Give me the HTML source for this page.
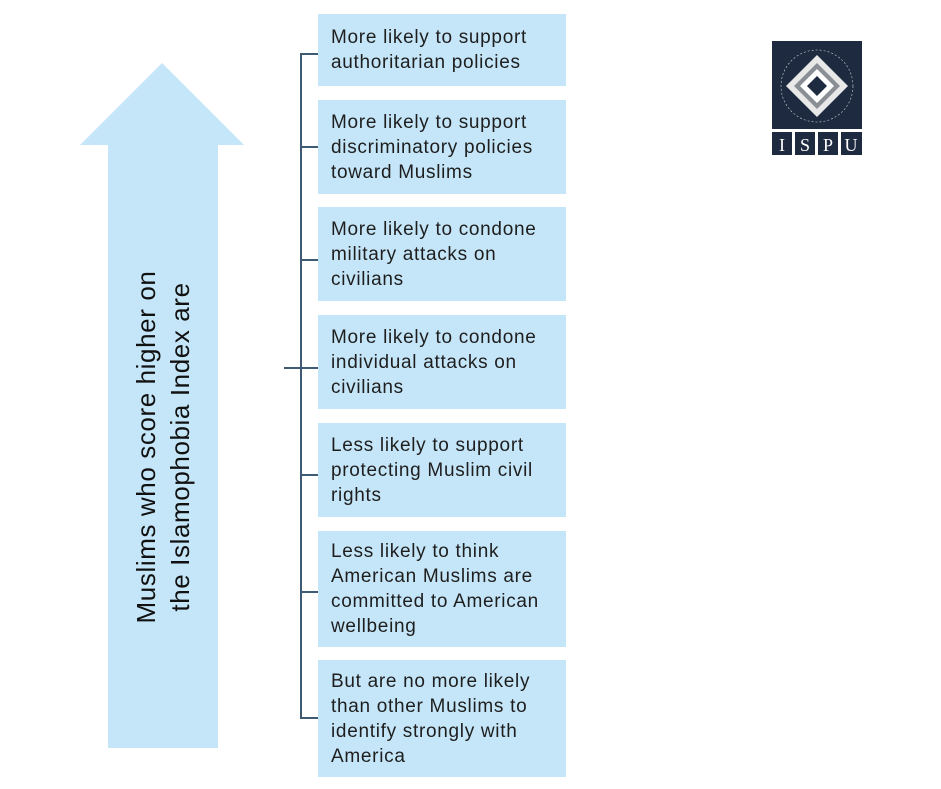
<!DOCTYPE html>
<html><head><style>
body{margin:0;width:941px;height:789px;background:#fff;position:relative;overflow:hidden;font-family:"Liberation Sans",sans-serif;}
.b{position:absolute;left:318px;width:248px;background:#c5e6f8;color:#1e1e1e;font-size:19px;line-height:25px;box-sizing:border-box;padding-left:13px;display:flex;align-items:center;letter-spacing:0.7px;white-space:nowrap}
.l{position:absolute;background:#3f5b73}
</style></head><body>
<svg style="position:absolute;left:0;top:0" width="941" height="789">
<polygon points="162,63 244,145 218,145 218,748 108,748 108,145 80,145" fill="#c5e6f8"/>
<text transform="translate(155,447) rotate(-90)" text-anchor="middle" font-family="Liberation Sans" font-size="26" letter-spacing="0.6" fill="#111">Muslims who score higher on</text>
<text transform="translate(189,447) rotate(-90)" text-anchor="middle" font-family="Liberation Sans" font-size="26" letter-spacing="0.6" fill="#111">the Islamophobia Index are</text>
<g>
<rect x="771" y="41" width="92" height="114" fill="#fff"/>
<rect x="772" y="41" width="90" height="88" fill="#1e2a3f"/>
<circle cx="817" cy="86" r="36" fill="none" stroke="#cfd3d8" stroke-width="0.6" stroke-dasharray="2 2"/>
<polygon points="817,55 848,86 817,117 786,86" fill="#e8e8e8"/>
<polygon points="817,63 840,86 817,109 794,86" fill="#8a8f96"/>
<polygon points="817,69 834,86 817,103 800,86" fill="#fff"/>
<polygon points="817,76 827,86 817,96 807,86" fill="#1e2a3f"/>
<rect x="772" y="132" width="20" height="23" fill="#1e2a3f"/>
<rect x="795" y="132" width="20" height="23" fill="#1e2a3f"/>
<rect x="818" y="132" width="20" height="23" fill="#1e2a3f"/>
<rect x="841" y="132" width="21" height="23" fill="#1e2a3f"/>
<g font-family="Liberation Serif" font-size="18" fill="#fff" text-anchor="middle">
<text x="782" y="151">I</text><text x="805" y="151">S</text><text x="828" y="151">P</text><text x="851" y="151">U</text></g>
</g>
</svg>
<div class="l" style="left:300px;top:54px;width:2px;height:665px"></div>
<div class="l" style="left:284px;top:367px;width:17px;height:2px"></div>
<div class="l" style="left:300px;top:53px;width:18px;height:2px"></div>
<div class="l" style="left:300px;top:146px;width:18px;height:2px"></div>
<div class="l" style="left:300px;top:259px;width:18px;height:2px"></div>
<div class="l" style="left:300px;top:367px;width:18px;height:2px"></div>
<div class="l" style="left:300px;top:474px;width:18px;height:2px"></div>
<div class="l" style="left:300px;top:591px;width:18px;height:2px"></div>
<div class="l" style="left:300px;top:717px;width:18px;height:2px"></div>
<div class="b" style="top:14px;height:72px">More likely to support<br>authoritarian policies</div>
<div class="b" style="top:100px;height:94px">More likely to support<br>discriminatory policies<br>toward Muslims</div>
<div class="b" style="top:207px;height:94px">More likely to condone<br>military attacks on<br>civilians</div>
<div class="b" style="top:315px;height:94px">More likely to condone<br>individual attacks on<br>civilians</div>
<div class="b" style="top:423px;height:94px">Less likely to support<br>protecting Muslim civil<br>rights</div>
<div class="b" style="top:531px;height:116px">Less likely to think<br>American Muslims are<br>committed to American<br>wellbeing</div>
<div class="b" style="top:660px;height:117px">But are no more likely<br>than other Muslims to<br>identify strongly with<br>America</div>
</body></html>
